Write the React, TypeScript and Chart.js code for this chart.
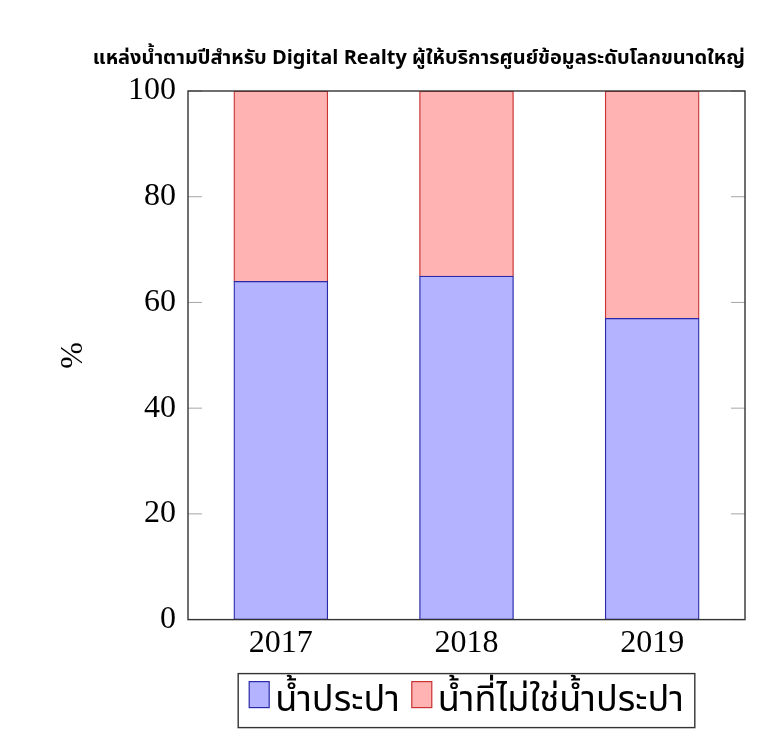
import React, { useEffect, useRef } from 'react';
import { Chart, registerables } from 'chart.js';
import type { Plugin } from 'chart.js';

Chart.register(...registerables);

const years = ['2017', '2018', '2019'];
const tapWater = [64, 65, 57];
const otherWater = [36, 35, 43];
const yTicks = [0, 20, 40, 60, 80, 100];

const chartTitle = 'แหล่งน้ำตามปีสำหรับ Digital Realty ผู้ให้บริการศูนย์ข้อมูลระดับโลกขนาดใหญ่';
const thaiFont = '"Noto Sans Thai", "Noto Sans", sans-serif';
const serifFont = '"Liberation Serif", "DejaVu Serif", serif';

// frame around the plot plus the small inward ticks on both sides
const framePlugin: Plugin<'bar'> = {
  id: 'frame',
  afterDraw(chart) {
    const { ctx, chartArea } = chart;
    const y = chart.scales.y;
    ctx.save();
    ctx.strokeStyle = '#a6a6a6';
    ctx.lineWidth = 1;
    yTicks.forEach((v) => {
      const py = y.getPixelForValue(v);
      ctx.beginPath();
      ctx.moveTo(chartArea.left, py);
      ctx.lineTo(chartArea.left + 14, py);
      ctx.moveTo(chartArea.right - 14, py);
      ctx.lineTo(chartArea.right, py);
      ctx.stroke();
    });
    ctx.strokeStyle = '#333333';
    ctx.lineWidth = 1.4;
    ctx.strokeRect(chartArea.left, chartArea.top, chartArea.right - chartArea.left, chartArea.bottom - chartArea.top);
    ctx.restore();
  },
};

// boxed legend under the x labels, like the pgfplots one
const legendPlugin: Plugin<'bar'> = {
  id: 'boxedLegend',
  afterDraw(chart) {
    const { ctx, chartArea } = chart;
    const sets = chart.data.datasets;
    ctx.save();
    ctx.font = `36px ${thaiFont}`;
    const pad = 11, sw = 20, sh = 26, gap = 6, between = 12;
    const widths = sets.map((d) => ctx.measureText(String(d.label)).width);
    let total = pad * 2 + between * (sets.length - 1);
    widths.forEach((w) => (total += sw + gap + w));
    const cx = (chartArea.left + chartArea.right) / 2;
    const left = cx - total / 2;
    const top = chartArea.bottom + 54;
    const height = 54;
    ctx.strokeStyle = '#333333';
    ctx.lineWidth = 1.4;
    ctx.strokeRect(left, top, total, height);
    let x = left + pad;
    sets.forEach((d, i) => {
      ctx.fillStyle = d.backgroundColor as string;
      ctx.fillRect(x, top + 8, sw, sh);
      ctx.strokeStyle = d.borderColor as string;
      ctx.lineWidth = 1.2;
      ctx.strokeRect(x, top + 8, sw, sh);
      x += sw + gap;
      ctx.fillStyle = '#000';
      ctx.textBaseline = 'alphabetic';
      ctx.fillText(String(d.label), x, top + 37);
      x += widths[i] + between;
    });
    ctx.restore();
  },
};

const App: React.FC = () => {
  const canvasRef = useRef<HTMLCanvasElement>(null);
  const chartRef = useRef<Chart | null>(null);

  useEffect(() => {
    document.body.style.margin = '0';
    if (!canvasRef.current) return;
    if (chartRef.current) chartRef.current.destroy();

    chartRef.current = new Chart(canvasRef.current, {
      type: 'bar',
      data: {
        labels: years,
        datasets: [
          {
            label: 'น้ำประปา',
            data: tapWater,
            backgroundColor: '#b3b3ff',
            borderColor: '#2a2aa8',
            borderWidth: 1.3,
            borderSkipped: false,
            barThickness: 94,
          },
          {
            label: 'น้ำที่ไม่ใช่น้ำประปา',
            data: otherWater,
            backgroundColor: '#ffb3b3',
            borderColor: '#c83232',
            borderWidth: 1.3,
            borderSkipped: 'bottom',
            barThickness: 94,
          },
        ],
      },
      options: {
        responsive: false,
        animation: false,
        layout: { padding: { left: 0, right: 24, top: 0, bottom: 74 } },
        plugins: {
          legend: { display: false },
          tooltip: { enabled: false },
          title: {
            display: true,
            text: chartTitle,
            align: 'end',
            color: '#000',
            font: { family: thaiFont, size: 20, weight: 'bold' },
            padding: { top: 48, bottom: 19 },
          },
        },
        scales: {
          x: {
            stacked: true,
            grid: { display: false, drawTicks: false },
            border: { display: false },
            ticks: { color: '#000', padding: 5, font: { family: serifFont, size: 32 } },
          },
          y: {
            stacked: true,
            min: 0,
            max: 100,
            grid: { display: false, drawTicks: false },
            border: { display: false },
            ticks: { stepSize: 20, color: '#000', padding: 12, font: { family: serifFont, size: 32 } },
            title: {
              display: true,
              text: '%',
              color: '#000',
              font: { family: serifFont, size: 32 },
              padding: { top: 54 },
            },
            afterFit(scale) {
              scale.width = 188;
            },
          },
        },
      },
      plugins: [framePlugin, legendPlugin],
    });

    return () => {
      if (chartRef.current) {
        chartRef.current.destroy();
        chartRef.current = null;
      }
    };
  }, []);

  return (
    <div style={{ width: 769, height: 742, background: '#fff' }}>
      <canvas ref={canvasRef} width={769} height={742}></canvas>
    </div>
  );
};

export default App;
